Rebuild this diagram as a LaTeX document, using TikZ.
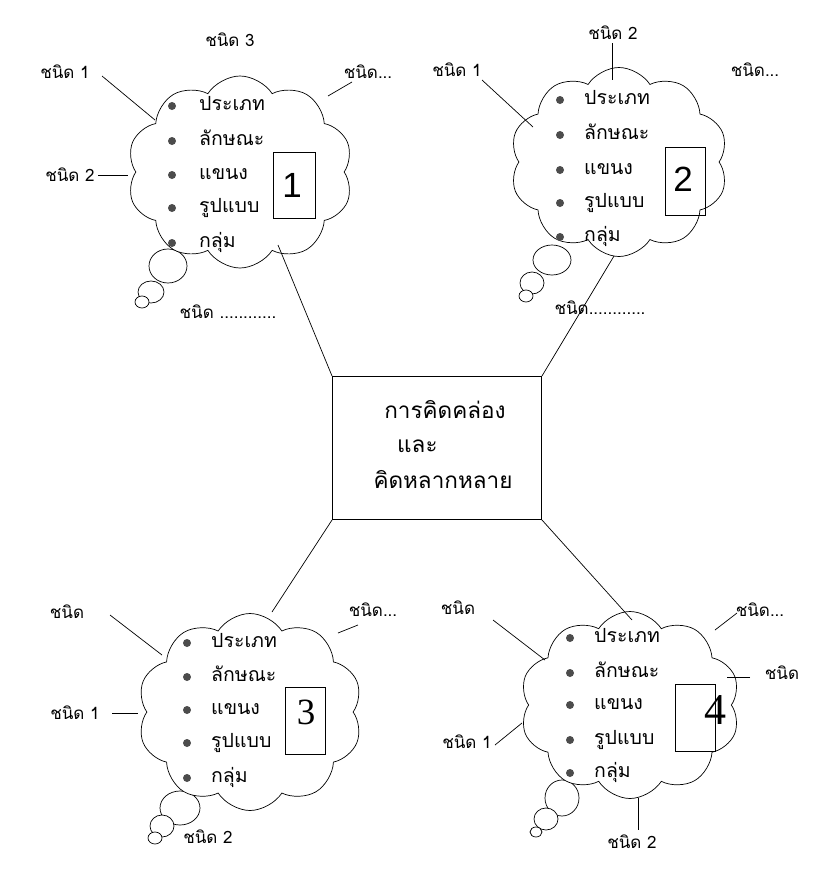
\documentclass[tikz,border=0pt]{standalone}
\usepackage{fontspec}
\setmainfont[Script=Thai]{Loma}
\newfontfamily\sansdig{Liberation Sans}
\newfontfamily\serifdig{Liberation Serif}
\usetikzlibrary{shapes.symbols}
\newcommand\cloudlist[8]{%
  \foreach \t/\yy [count=\i] in {ประเภท/#4, ลักษณะ/#5, แขนง/#6, รูปแบบ/#7, กลุ่ม/#8} {
    \node[bdot] (#1d\i) at (#2,\yy) {};
    \node[itemtxt] (#1t\i) at (#3,\yy) {\t};
  }%
}
\begin{document}
\begin{tikzpicture}[x=1pt,y=-1pt,
  cloudshape/.style={cloud, draw, fill=white, cloud puffs=10, cloud puff arc=115, cloud ignores aspect, inner sep=0pt, line width=0.7pt},
  bub/.style={draw, fill=white, line width=0.7pt},
  itemtxt/.style={anchor=west, inner sep=0pt, font=\fontsize{19.5}{19.5}\selectfont, text height=11pt, text depth=3pt},
  bdot/.style={circle, fill=black!70, inner sep=0pt, minimum size=8pt},
  lbl/.style={inner sep=0pt, font=\fontsize{17}{17}\selectfont},
  numbox/.style={draw, line width=0.8pt, inner sep=0pt},
  conn/.style={line width=0.7pt}
]
\useasboundingbox (0,0) rectangle (827,884);
\fill[white] (0,0) rectangle (827,884);

% thought bubbles
\draw[bub] (168,266) ellipse [x radius=19pt, y radius=17pt];
\draw[bub] (151,292) ellipse [x radius=13pt, y radius=11pt];
\draw[bub] (142,302) ellipse [x radius=7pt, y radius=6pt];
\draw[bub] (552,260) ellipse [x radius=19pt, y radius=15pt];
\draw[bub] (532,283) ellipse [x radius=12pt, y radius=11pt];
\draw[bub] (526,296) ellipse [x radius=7pt, y radius=6pt];
\draw[bub] (180,808) ellipse [x radius=20pt, y radius=17pt];
\draw[bub] (162,826) ellipse [x radius=12pt, y radius=11pt];
\draw[bub] (155,838) ellipse [x radius=7pt, y radius=6pt];
\draw[bub] (562,798) ellipse [x radius=17pt, y radius=18pt];
\draw[bub] (546,819) ellipse [x radius=12pt, y radius=11pt];
\draw[bub] (536,832) ellipse [x radius=6pt, y radius=5pt];

% clouds
\node[cloudshape, minimum width=226pt, minimum height=192pt] (c1) at (240,172) {};
\node[cloudshape, minimum width=218pt, minimum height=189pt] (c2) at (619,162) {};
\node[cloudshape, minimum width=225pt, minimum height=197pt] (c3) at (250,712) {};
\node[cloudshape, minimum width=220pt, minimum height=187pt] (c4) at (630,705) {};

% lists
\cloudlist{a}{172}{199}{106}{141}{175}{208}{243}
\cloudlist{b}{560}{584}{100}{135}{170}{203}{237}
\cloudlist{c}{187}{211}{643}{677}{710}{743}{778}
\cloudlist{d}{570}{594}{638}{673}{705}{740}{773}

% number boxes
\node[numbox, minimum width=42pt, minimum height=66pt] (n1) at (294,185) {};
\node[font=\sansdig\fontsize{35}{35}\selectfont, inner sep=0pt] (d1) at (292,185) {1};
\node[numbox, minimum width=40pt, minimum height=68pt] (n2) at (685,181) {};
\node[font=\sansdig\fontsize{35}{35}\selectfont, inner sep=0pt] (d2) at (683,179) {2};
\node[numbox, minimum width=40pt, minimum height=67pt] (n3) at (305,721) {};
\node[font=\serifdig\fontsize{37}{37}\selectfont, inner sep=0pt] (d3) at (306,712) {3};
\node[numbox, minimum width=40pt, minimum height=67pt] (n4) at (695,718) {};
\node[font=\serifdig\fontsize{44}{44}\selectfont, inner sep=0pt] (d4) at (715,710) {4};

% central box
\node[draw, line width=0.9pt, minimum width=209pt, minimum height=143pt, inner sep=0pt] (mid) at (437,448) {};
\node[inner sep=0pt, font=\fontsize{22.5}{22.5}\selectfont] (m1) at (445,410) {การคิดคล่อง};
\node[inner sep=0pt, font=\fontsize{22.5}{22.5}\selectfont, anchor=west] (m2) at (397,446) {และ};
\node[inner sep=0pt, font=\fontsize{22.5}{22.5}\selectfont] (m3) at (443,480) {คิดหลากหลาย};

% connectors from central box
\coordinate (c1p) at (278,245);
\coordinate (c2p) at (614,256);
\coordinate (c3p) at (272,612);
\coordinate (c4p) at (632,620);
\draw[conn] (mid.north west) -- (c1p);
\draw[conn] (mid.north east) -- (c2p);
\draw[conn] (mid.south west) -- (c3p);
\draw[conn] (mid.south east) -- (c4p);

% cloud 1 labels
\node[lbl] (l13) at (230,40) {ชนิด 3};
\node[lbl] (l11) at (65,72) {ชนิด 1};
\coordinate (l11a) at (102,76); \coordinate (l11b) at (155,120);
\draw[conn] (l11a) -- (l11b);
\node[lbl] (l1x) at (368,72) {ชนิด...};
\coordinate (l1xa) at (352,82); \coordinate (l1xb) at (328,96);
\draw[conn] (l1xa) -- (l1xb);
\node[lbl] (l12) at (70,175) {ชนิด 2};
\coordinate (l12a) at (98,175); \coordinate (l12b) at (128,175);
\draw[conn] (l12a) -- (l12b);
\node[lbl] (l1d) at (228,312) {ชนิด ............};

% cloud 2 labels
\node[lbl] (l22) at (613,33) {ชนิด 2};
\coordinate (l22a) at (612,43); \coordinate (l22b) at (612,80);
\draw[conn] (l22a) -- (l22b);
\node[lbl] (l21) at (457,70) {ชนิด 1};
\coordinate (l21a) at (482,80); \coordinate (l21b) at (533,127);
\draw[conn] (l21a) -- (l21b);
\node[lbl] (l2x) at (755,70) {ชนิด...};
\node[lbl] (l2d) at (600,308) {ชนิด............};

% cloud 3 labels
\node[lbl] (l3a) at (67,612) {ชนิด};
\coordinate (l3aa) at (110,615); \coordinate (l3ab) at (162,655);
\draw[conn] (l3aa) -- (l3ab);
\node[lbl] (l3x) at (373,610) {ชนิด...};
\coordinate (l3xa) at (358,625); \coordinate (l3xb) at (338,633);
\draw[conn] (l3xa) -- (l3xb);
\node[lbl] (l31) at (75,713) {ชนิด 1};
\coordinate (l31a) at (112,713); \coordinate (l31b) at (138,713);
\draw[conn] (l31a) -- (l31b);
\node[lbl] (l32) at (208,837) {ชนิด 2};

% cloud 4 labels
\node[lbl] (l4a) at (458,608) {ชนิด};
\coordinate (l4aa) at (493,620); \coordinate (l4ab) at (545,660);
\draw[conn] (l4aa) -- (l4ab);
\node[lbl] (l4x) at (760,610) {ชนิด...};
\coordinate (l4xa) at (737,613); \coordinate (l4xb) at (715,630);
\draw[conn] (l4xa) -- (l4xb);
\node[lbl] (l4r) at (782,673) {ชนิด};
\coordinate (l4ra) at (750,677); \coordinate (l4rb) at (727,677);
\draw[conn] (l4ra) -- (l4rb);
\node[lbl] (l41) at (467,742) {ชนิด 1};
\coordinate (l41a) at (495,745); \coordinate (l41b) at (522,723);
\draw[conn] (l41a) -- (l41b);
\node[lbl] (l42) at (632,842) {ชนิด 2};
\coordinate (l42a) at (638,798); \coordinate (l42b) at (638,830);
\draw[conn] (l42a) -- (l42b);
\end{tikzpicture}
\end{document}
